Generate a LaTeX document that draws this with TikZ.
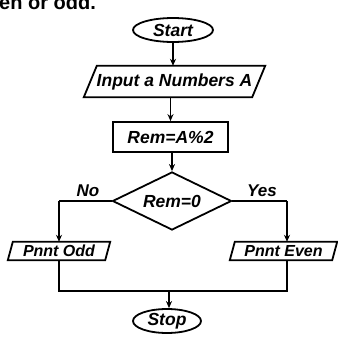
\documentclass[tikz,border=0pt]{standalone}
\usepackage{fontspec}
\setmainfont{Liberation Sans}
\usetikzlibrary{shapes.geometric,arrows.meta}
\begin{document}
\begin{tikzpicture}[x=1pt,y=-1pt,
  lbl/.style={font=\fontsize{17}{19}\selectfont\bfseries\itshape, inner sep=0pt},
  term/.style={ellipse, draw, line width=1.8pt, inner sep=0pt, font=\fontsize{17.5}{19}\selectfont\bfseries\itshape},
  procbox/.style={rectangle, draw, line width=1.8pt, inner sep=0pt, font=\fontsize{17.5}{19}\selectfont\bfseries\itshape},
  iobox/.style={rectangle, inner sep=0pt, font=\fontsize{17.5}{19}\selectfont\bfseries\itshape},
  decbox/.style={diamond, draw, line width=1.8pt, inner sep=0pt, aspect=2, font=\fontsize{17.5}{19}\selectfont\bfseries\itshape},
  arr/.style={line width=1.8pt, -{Stealth[length=7pt,width=6pt]}},
  edge/.style={line width=1.8pt, line join=miter}
]
\useasboundingbox (0,0) rectangle (338,341);
\clip (0,0) rectangle (338,341);
\fill[white] (0,0) rectangle (338,341);

\node[anchor=base west, inner sep=0pt, font=\fontsize{20}{22}\selectfont\bfseries] (head) at (-1,9) {en or odd.};

\node[term, minimum width=80pt, minimum height=24pt] (start) at (173,30) {Start};

\node[iobox, minimum width=168pt, minimum height=31pt] (in) at (174.5,81.5) {Input a Numbers A};
\draw[edge] ([xshift=-6.5pt]in.south west) -- ([xshift=6.5pt]in.north west) -- ([xshift=6.5pt]in.north east) -- ([xshift=-6.5pt]in.south east) -- cycle;

\node[procbox, minimum width=115pt, minimum height=30pt] (rem) at (170.5,137) {Rem=A\%2};

\node[decbox, minimum width=119pt, minimum height=58pt] (dec) at (172,201) {Rem=0};

\node[lbl] (no) at (88,191) {No};
\node[lbl] (yes) at (262,191) {Yes};

\node[iobox, minimum width=97pt, minimum height=18pt, font=\fontsize{16}{18}\selectfont\bfseries\itshape] (odd) at (59,251) {Pnnt Odd};
\draw[edge] ([xshift=-2.5pt]odd.south west) -- ([xshift=2.5pt]odd.north west) -- ([xshift=2.5pt]odd.north east) -- ([xshift=-2.5pt]odd.south east) -- cycle;

\node[iobox, minimum width=102pt, minimum height=18pt, font=\fontsize{16}{18}\selectfont\bfseries\itshape] (even) at (283.5,251) {Pnnt Even};
\draw[edge] ([xshift=-2.5pt]even.south west) -- ([xshift=2.5pt]even.north west) -- ([xshift=2.5pt]even.north east) -- ([xshift=-2.5pt]even.south east) -- cycle;

\node[term, minimum width=68pt, minimum height=24pt] (stop) at (167,321) {Stop};

\coordinate (nl) at (59,201);
\coordinate (nr) at (287,201);
\coordinate (ol) at (59,291);
\coordinate (er) at (287,291);
\coordinate (j) at (169,291);

\draw[arr] (start) -- (start.south |- in.north);
\draw[arr] (in.south -| rem.north) -- (rem.north);
\draw[arr] (rem.south) -- (rem.south -| dec.north) -- (dec.north);
\draw[edge] (dec.west) -- (nl);
\draw[arr] (nl) -- (odd.north);
\draw[edge] (dec.east) -- (nr);
\draw[arr] (nr) -- (nr |- even.north);
\draw[edge] (odd.south) -- (ol) -- (er) -- (er |- even.south);
\draw[arr] (j) -- (j |- stop.north);
\end{tikzpicture}
\end{document}
